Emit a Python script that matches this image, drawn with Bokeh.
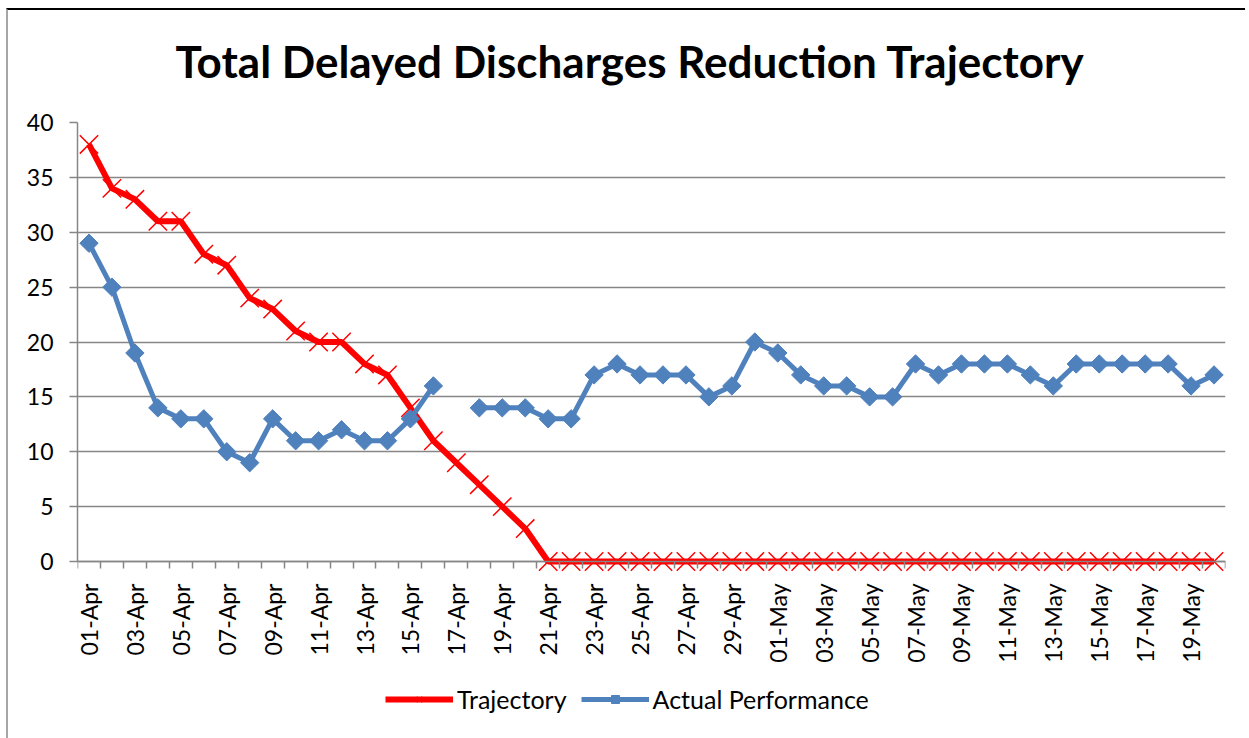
import math
import pandas as pd
from bokeh.plotting import figure
from bokeh.models import FixedTicker, Range1d, Legend, LegendItem, Title
from bokeh.embed import file_html
from bokeh.resources import INLINE

# ---- data ----
dates = [d.strftime("%d-%b") for d in pd.date_range("2024-04-01", "2024-05-20")]
trajectory = [38, 34, 33, 31, 31, 28, 27, 24, 23, 21,
              20, 20, 18, 17, 14, 11, 9, 7, 5, 3,
              0, 0, 0, 0, 0, 0, 0, 0, 0, 0,
              0, 0, 0, 0, 0, 0, 0, 0, 0, 0,
              0, 0, 0, 0, 0, 0, 0, 0, 0, 0]
actual = [29, 25, 19, 14, 13, 13, 10, 9, 13, 11,
          11, 12, 11, 11, 13, 16, None, 14, 14, 14,
          13, 13, 17, 18, 17, 17, 17, 15, 16, 20,
          19, 17, 16, 16, 15, 15, 18, 17, 18, 18,
          18, 17, 16, 18, 18, 18, 18, 18, 16, 17]
y_ticks = [0, 5, 10, 15, 20, 25, 30, 35, 40]
title_text = "Total Delayed Discharges Reduction Trajectory"
series_names = ["Trajectory", "Actual Performance"]

x = list(range(len(dates)))
actual_nan = [float("nan") if v is None else v for v in actual]

RED = "#FF0000"
BLUE = "#4F81BD"
GRID = "#868686"
FONT = "Lato"

# value axis 0..40 occupies the top 439 px of the plot area; the area below
# 0 holds the date labels and the legend
PLOT_H = 603
AXIS_H = 439
y_min = -40 * (PLOT_H - AXIS_H) / AXIS_H

p = figure(frame_width=1148, frame_height=PLOT_H,
           min_border_left=69, min_border_right=20,
           min_border_top=112, min_border_bottom=14,
           x_range=Range1d(-0.5, len(dates) - 0.5), y_range=Range1d(y_min, 40),
           output_backend="svg", toolbar_location=None)
p.styles = {"border-top": "2px solid black", "border-left": "2px solid #a6a6a6",
            "margin-top": "8px", "margin-left": "6px"}
p.outline_line_color = None
p.background_fill_color = "white"
p.border_fill_color = "white"

# title (spacer first = nearest to the plot area, then the title text)
p.add_layout(Title(text=" ", text_font_size="1px", standoff=33), "above")
p.add_layout(Title(text=title_text, align="left", offset=98, vertical_align="bottom",
                   standoff=0, text_font=FONT, text_font_style="bold",
                   text_font_size="44px", text_color="black"), "above")

# axes
p.yaxis.ticker = FixedTicker(ticks=y_ticks)
p.yaxis.bounds = (0, 40)
p.yaxis.axis_line_color = GRID
p.yaxis.axis_line_width = 1.5
p.yaxis.major_tick_line_color = GRID
p.yaxis.major_tick_line_width = 1.5
p.yaxis.major_tick_out = 8
p.yaxis.major_tick_in = 0
p.yaxis.minor_tick_line_color = None
p.yaxis.major_label_standoff = 16
p.yaxis.major_label_text_font = FONT
p.yaxis.major_label_text_font_size = "23px"
p.yaxis.major_label_text_color = "black"

p.xaxis.fixed_location = 0
p.xaxis.ticker = FixedTicker(ticks=x[::2], minor_ticks=[i - 0.5 for i in range(len(dates) + 1)])
p.xaxis.major_label_overrides = {i: dates[i] for i in x[::2]}
p.xaxis.major_label_orientation = math.pi / 2
p.xaxis.axis_line_color = GRID
p.xaxis.axis_line_width = 1.5
p.xaxis.major_tick_line_color = None
p.xaxis.major_tick_out = 0
p.xaxis.major_tick_in = 0
p.xaxis.minor_tick_line_color = GRID
p.xaxis.minor_tick_line_width = 1.5
p.xaxis.minor_tick_out = 7
p.xaxis.minor_tick_in = 0
p.xaxis.major_label_standoff = 15
p.xaxis.major_label_text_font = FONT
p.xaxis.major_label_text_font_size = "23px"
p.xaxis.major_label_text_color = "black"

p.xgrid.visible = False
p.ygrid.ticker = FixedTicker(ticks=y_ticks)
p.ygrid.grid_line_color = GRID
p.ygrid.grid_line_width = 1.5

# series
r_line = p.line(x, trajectory, line_color=RED, line_width=6)
r_mark = p.scatter(x, trajectory, marker="x", size=26, line_color=RED, line_width=1.5)
b_line = p.line(x, actual_nan, line_color=BLUE, line_width=5)
b_mark = p.scatter(x, actual_nan, marker="square", angle=math.pi / 4, size=13,
                   fill_color=BLUE, line_color=BLUE)

legend = Legend(items=[LegendItem(label=series_names[0], renderers=[r_line, r_mark]),
                       LegendItem(label=series_names[1], renderers=[b_line, b_mark])],
                location=(308, 11), orientation="horizontal",
                padding=0, margin=0, spacing=14, label_standoff=4,
                glyph_width=68, glyph_height=20,
                border_line_color=None, background_fill_alpha=0,
                label_text_font=FONT, label_text_font_size="25px",
                label_text_color="black")
p.add_layout(legend, "center")

open("out.html", "w").write(file_html(p, INLINE))
